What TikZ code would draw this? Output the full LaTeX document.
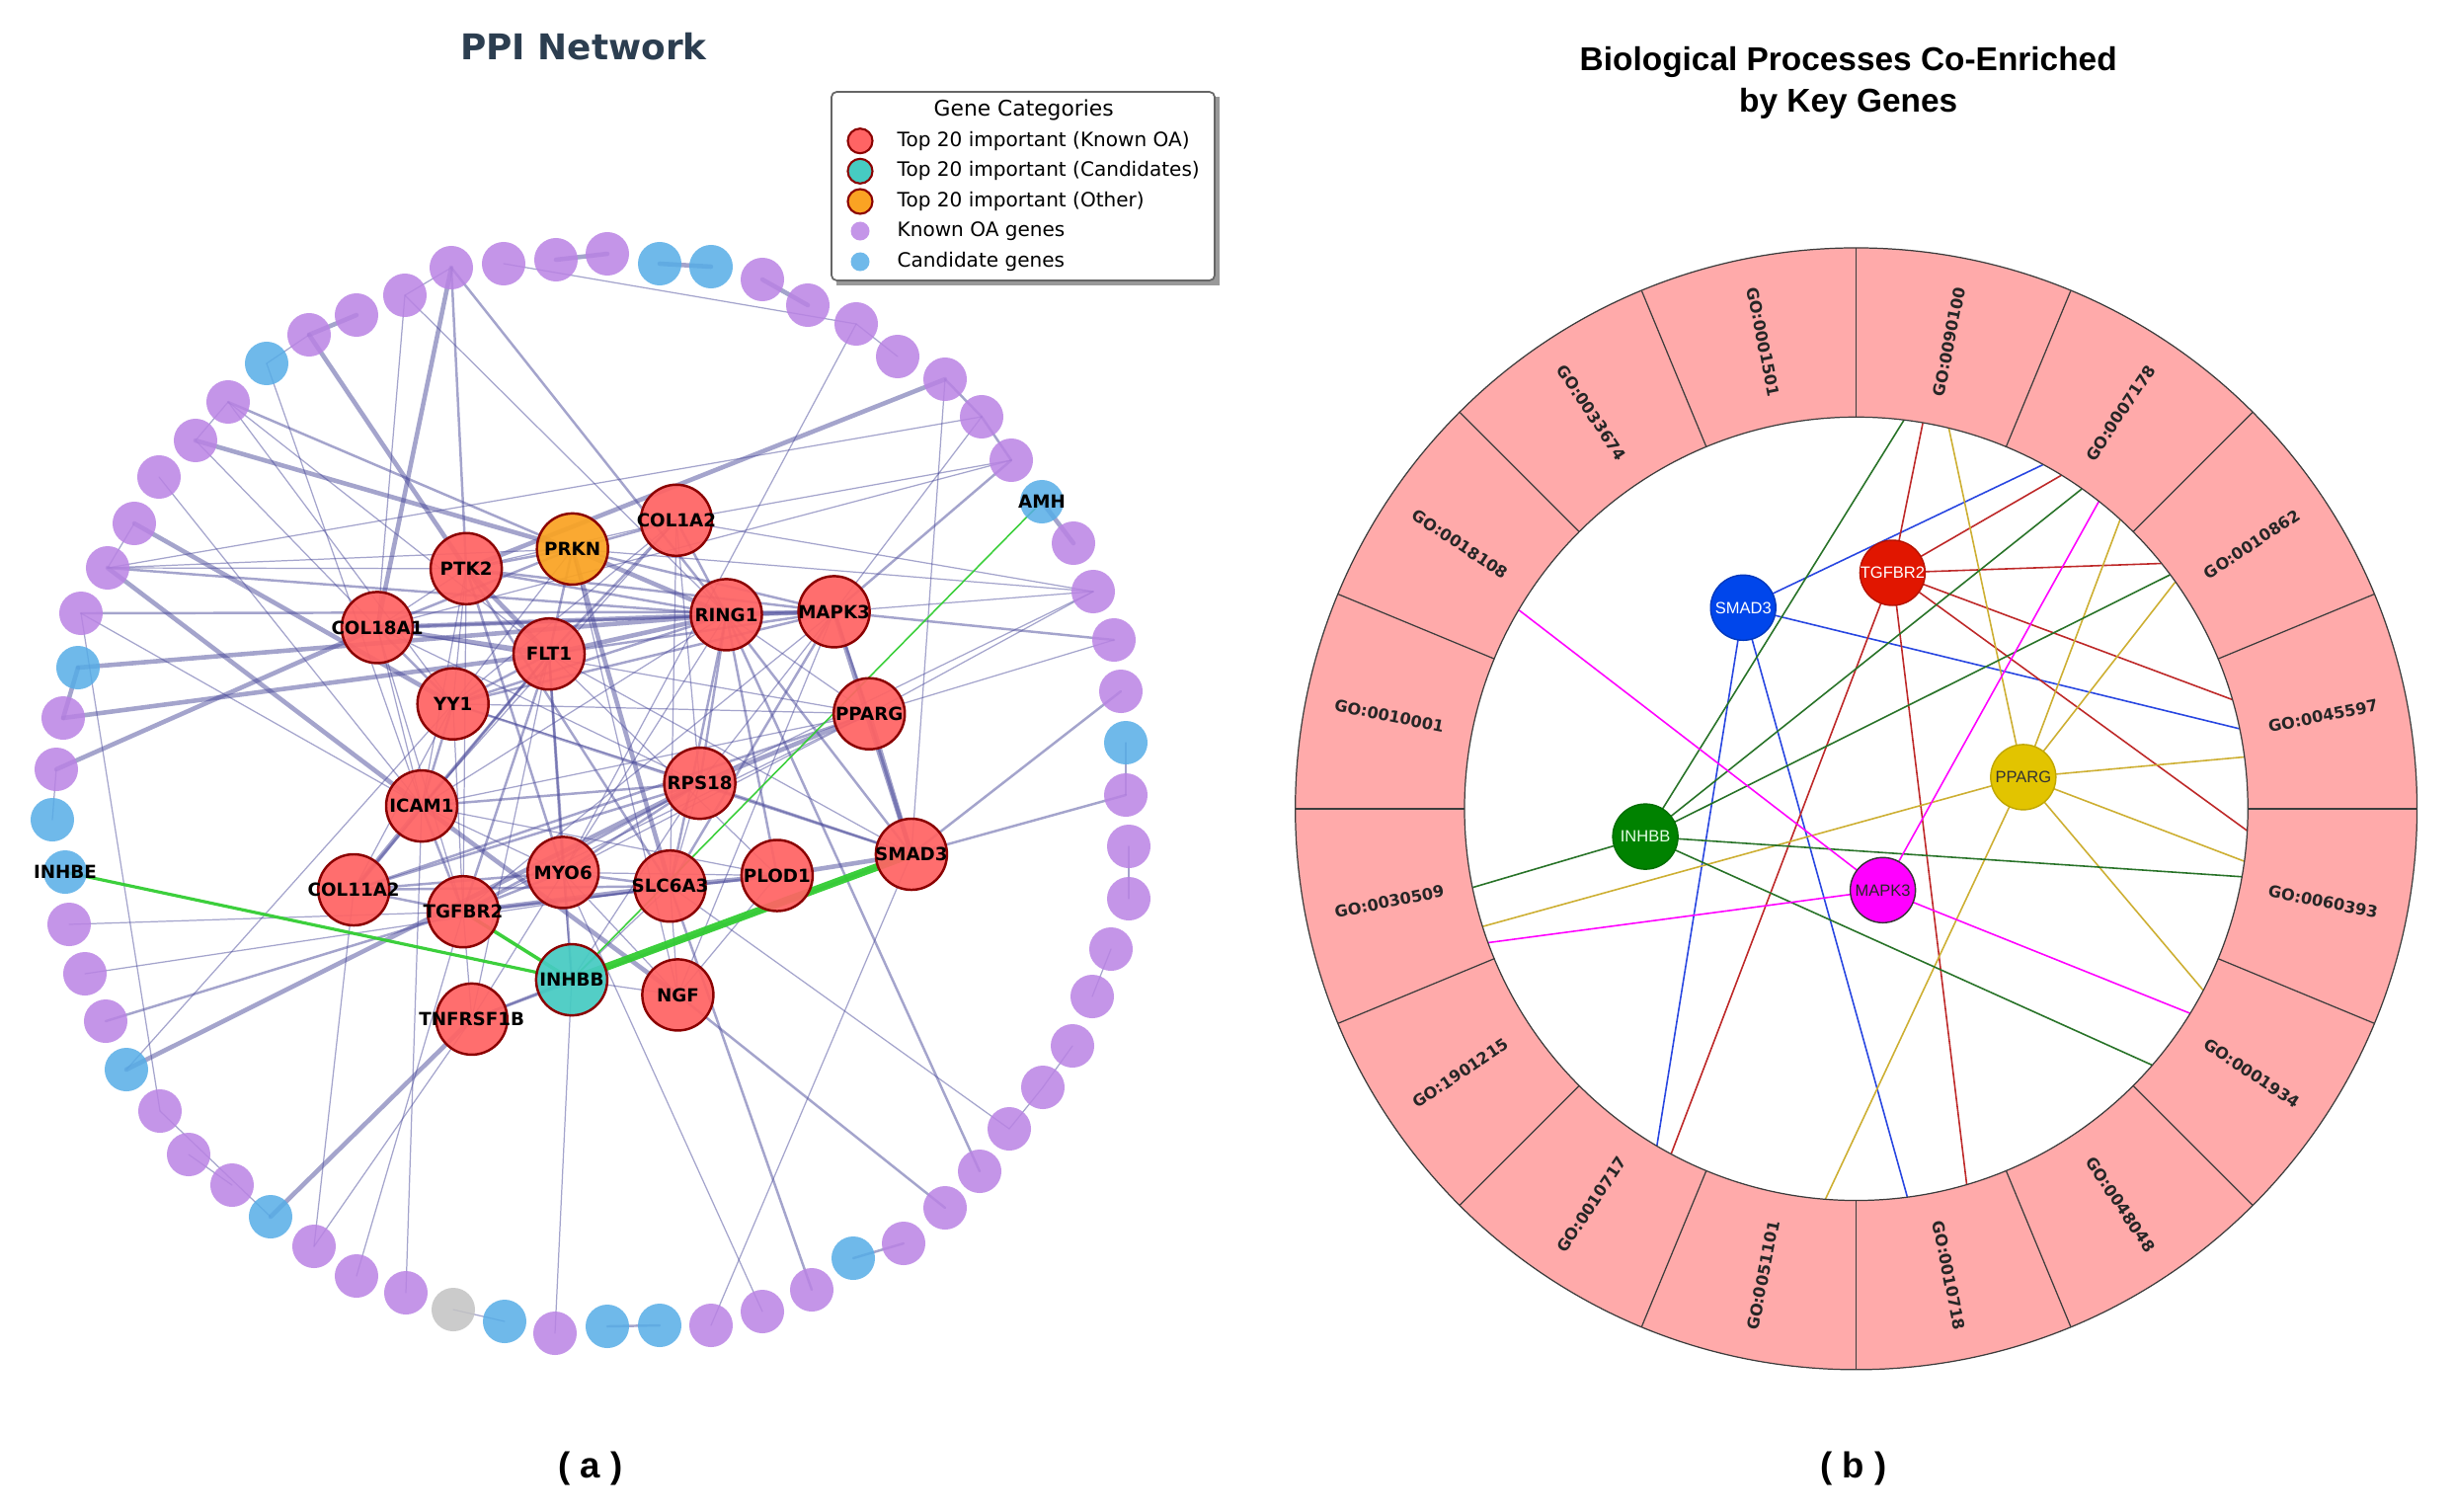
\documentclass[tikz,border=0pt]{standalone}
\usepackage{fontspec}
\setmainfont{DejaVu Sans}
\newfontfamily\libsans{Liberation Sans}
\pgfdeclarelayer{edgelayer}
\pgfsetlayers{edgelayer,main}
\newcommand\myfs[1]{\fontsize{#1}{#1}\selectfont}
\definecolor{cRed}{RGB}{255,100,100}
\definecolor{cTeal}{RGB}{70,203,194}
\definecolor{cOrg}{RGB}{250,163,35}
\definecolor{cDR}{RGB}{139,0,0}
\definecolor{cPu}{RGB}{186,131,228}
\definecolor{cBl}{RGB}{86,173,231}
\definecolor{cGr}{RGB}{195,195,195}
\definecolor{cE}{RGB}{75,75,155}
\definecolor{cLime}{RGB}{50,205,50}
\definecolor{cTitle}{RGB}{44,62,80}
\definecolor{cWedge}{RGB}{255,170,170}
\definecolor{cSec}{RGB}{60,60,60}
\definecolor{cSm}{RGB}{0,70,235}
\definecolor{cTg}{RGB}{225,22,0}
\definecolor{cPp}{RGB}{226,196,0}
\definecolor{cIn}{RGB}{0,130,0}
\definecolor{cMa}{RGB}{255,0,255}
\definecolor{cSmE}{RGB}{40,70,225}
\definecolor{cTgE}{RGB}{190,40,40}
\definecolor{cPpE}{RGB}{205,175,50}
\definecolor{cInE}{RGB}{40,115,40}
\definecolor{cMaE}{RGB}{255,0,255}
\begin{document}
\begin{tikzpicture}[x=0.01cm,y=-0.01cm,
  ringnode/.style={circle,minimum size=4.4mm,inner sep=0pt,draw=none,fill opacity=0.85},
  bignode/.style={circle,minimum size=7.2mm,inner sep=0pt,draw=cDR,line width=0.7pt,fill opacity=0.93,draw opacity=1},
  nlab/.style={font=\myfs{5.2}\bfseries,text=black,inner sep=0pt,fill opacity=1,text opacity=1},
  lk/.style={draw=cE,draw opacity=0.5,line cap=round},
  e1/.style={lk,line width=0.35pt},
  e2/.style={lk,line width=0.7pt},
  e3/.style={lk,line width=1.3pt},
  ge/.style={draw=cLime,draw opacity=0.95,line cap=round},
  legbig/.style={circle,minimum size=2.5mm,inner sep=0pt,draw=cDR,line width=0.6pt},
  legsmall/.style={circle,minimum size=1.9mm,inner sep=0pt,draw=none},
  legtxt/.style={anchor=west,font=\myfs{5.7},inner sep=0pt},
  sec/.style={draw=cSec,line width=0.35pt},
  golab/.style={font=\myfs{4.6}\bfseries,text=black!85,inner sep=0pt},
  gnode/.style={circle,minimum size=6.6mm,inner sep=0pt,line width=0.4pt},
  glab/.style={font=\libsans\myfs{4.7},inner sep=0pt},
  re/.style={line width=0.45pt}
]
\useasboundingbox (0,0) rectangle (2486,1530);
\begin{pgfonlayer}{edgelayer}
\fill[white] (0,0) rectangle (2486,1530);
\end{pgfonlayer}

% ---------------- titles ----------------
\node[font=\myfs{10.2}\bfseries,text=cTitle] (titleA) at (591,47.6) {PPI Network};
\node[font=\libsans\myfs{9.5}\bfseries] (titleB1) at (1871.7,63.4) {Biological Processes Co-Enriched};
\node[font=\libsans\myfs{9.5}\bfseries] (titleB2) at (1871.7,104.6) {by Key Genes};
\node[font=\libsans\myfs{10.4}\bfseries] (capA) at (598,1487) {( a )};
\node[font=\libsans\myfs{10.4}\bfseries] (capB) at (1877,1487) {( b )};

% ---------------- left: ring nodes ----------------
\foreach \n/\x/\y/\c in {1/457/271/cPu,2/510/267/cPu,3/563/263/cPu,4/615/257/cPu,5/668/267/cBl,6/720/270/cBl,
 7/772/283/cPu,8/818/309/cPu,9/867/328/cPu,10/909/361/cPu,11/957/384/cPu,12/994/422/cPu,13/1024/466/cPu,
 14/1055/508/cBl,15/1087/550/cPu,16/1107/599/cPu,17/1128/648/cPu,18/1135/700/cPu,19/1140/752/cBl,
 20/1140/805/cPu,21/1143/857/cPu,22/1143/910/cPu,23/1125/961/cPu,24/1106/1009/cPu,25/1086/1059/cPu,
 26/1056/1101/cPu,27/1022/1143/cPu,28/992/1186/cPu,29/957/1223/cPu,30/915/1259/cPu,31/864/1274/cBl,
 32/822/1306/cPu,33/772/1328/cPu,34/720/1342/cPu,35/668/1342/cBl,36/615/1343/cBl,37/562/1350/cPu,
 38/511/1338/cBl,39/459/1326/cGr,40/411/1309/cPu,41/361/1292/cPu,42/318/1262/cPu,43/274/1232/cBl,
 44/235/1200/cPu,45/191/1169/cPu,46/162/1125/cPu,47/128/1083/cBl,48/107/1034/cPu,49/86/986/cPu,
 50/70/936/cPu,51/66/883/cBl,52/53/830/cBl,53/57/779/cPu,54/64/727/cPu,55/79/676/cBl,56/82/621/cPu,
 57/109/575/cPu,58/136/530/cPu,59/161/483/cPu,60/198/446/cPu,61/231/407/cPu,62/270/368/cBl,
 63/313/339/cPu,64/361/319/cPu,65/410/299/cPu}
  \node[ringnode,fill=\c] (L-r\n) at (\x,\y) {};
\node[nlab] (labAMH) at (L-r14) {AMH};
\node[nlab] (labINHBE) at (L-r51) {INHBE};

% ---------------- left: top-20 nodes ----------------
\foreach \n/\x/\y/\c in {PRKN/579.7/555.9/cOrg,COL1A2/684.9/526.8/cRed,PTK2/472.1/575.8/cRed,
 COL18A1/382.0/635.4/cRed,RING1/735.5/622.4/cRed,MAPK3/844.6/619.4/cRed,FLT1/556.0/662.2/cRed,
 YY1/458.7/712.7/cRed,PPARG/880.2/722.7/cRed,RPS18/708.6/793.1/cRed,ICAM1/427.0/816.1/cRed,
 SMAD3/922.9/865.0/cRed,MYO6/570.2/883.4/cRed,SLC6A3/678.5/897.2/cRed,PLOD1/786.9/886.5/cRed,
 COL11A2/358.2/901.0/cRed,TGFBR2/469.0/923.2/cRed,INHBB/578.9/992.1/cTeal,NGF/686.4/1007.4/cRed,
 TNFRSF1B/477.7/1031.9/cRed}
  \node[bignode,fill=\c,label={[nlab]center:\n}] (L-\n) at (\x,\y) {};

% ---------------- left: edges ----------------
\begin{pgfonlayer}{edgelayer}
\foreach \a/\b in {r1/r65,r2/r9,r9/r10,r19/r20,r21/r22,r23/r24,r25/r26,r26/r27,r38/r39,r44/r45,r46/r43,r52/r53,r57/r58,r60/r61,r62/r63,
 r65/COL18A1,r65/RING1,r62/ICAM1,r61/FLT1,r61/YY1,r60/COL18A1,r59/ICAM1,r57/PTK2,r57/PRKN,r57/r12,r56/ICAM1,r56/r46,
 r47/YY1,r49/SLC6A3,r50/TGFBR2,r42/COL11A2,r42/TNFRSF1B,r41/TGFBR2,r40/ICAM1,r37/INHBB,r33/MYO6,r34/SMAD3,
 r27/SLC6A3,r11/SMAD3,r12/MAPK3,r13/COL18A1,r16/COL1A2,r16/MAPK3,r16/RPS18,r16/PRKN,r16/PPARG,r17/PPARG,r9/MYO6,
 COL1A2/PTK2,COL1A2/YY1,COL1A2/ICAM1,COL1A2/RPS18,COL1A2/SLC6A3,COL1A2/r13,PRKN/NGF,PRKN/YY1,
 PTK2/COL18A1,PTK2/YY1,PTK2/ICAM1,PTK2/TGFBR2,COL18A1/ICAM1,COL18A1/TGFBR2,COL18A1/PPARG,COL18A1/RPS18,
 RING1/PPARG,RING1/MYO6,RING1/ICAM1,MAPK3/RPS18,MAPK3/NGF,FLT1/TNFRSF1B,FLT1/SMAD3,FLT1/PLOD1,
 YY1/RPS18,YY1/PPARG,YY1/TGFBR2,YY1/COL11A2,PPARG/ICAM1,PPARG/MYO6,PPARG/TGFBR2,RPS18/INHBB,RPS18/SLC6A3,
 ICAM1/MYO6,ICAM1/PLOD1,TGFBR2/TNFRSF1B,TGFBR2/MAPK3,MYO6/PLOD1,MYO6/INHBB,MYO6/NGF,MYO6/TNFRSF1B,
 SLC6A3/NGF,SLC6A3/INHBB,PLOD1/NGF,INHBB/NGF}
  \draw[e1] (L-\a.center) -- (L-\b.center);
\foreach \a/\b in {r11/r12,r12/r13,r30/r31,r35/r36,r1/PTK2,r1/RING1,r61/PRKN,r57/RING1,r56/MAPK3,r48/TGFBR2,
 r28/RING1,r32/SLC6A3,r29/NGF,r13/MAPK3,r17/MAPK3,r18/SMAD3,r20/SMAD3,
 COL1A2/PRKN,COL1A2/RING1,COL1A2/FLT1,PRKN/PTK2,PRKN/FLT1,PRKN/MAPK3,PRKN/COL18A1,
 PTK2/RING1,PTK2/MAPK3,PTK2/MYO6,PTK2/SLC6A3,COL18A1/MAPK3,COL18A1/YY1,
 RING1/YY1,RING1/RPS18,RING1/SLC6A3,RING1/PLOD1,RING1/SMAD3,
 MAPK3/FLT1,MAPK3/PPARG,MAPK3/SLC6A3,MAPK3/YY1,
 FLT1/YY1,FLT1/ICAM1,FLT1/MYO6,FLT1/TGFBR2,FLT1/INHBB,FLT1/COL11A2,YY1/ICAM1,YY1/SMAD3,PPARG/COL11A2,
 RPS18/ICAM1,RPS18/COL11A2,RPS18/TGFBR2,RPS18/MYO6,RPS18/SMAD3,ICAM1/TGFBR2,
 COL11A2/TGFBR2,COL11A2/MYO6,COL11A2/SLC6A3,TGFBR2/PLOD1,TGFBR2/MYO6,MYO6/SLC6A3,SMAD3/TNFRSF1B,INHBB/TNFRSF1B}
  \draw[e2] (L-\a.center) -- (L-\b.center);
\foreach \a/\b in {r3/r4,r5/r6,r7/r8,r14/r15,r54/r55,r63/r64,r1/COL18A1,r63/PTK2,r60/PRKN,r58/YY1,r57/ICAM1,
 r55/RING1,r54/FLT1,r53/COL18A1,r47/RPS18,r43/TNFRSF1B,r11/PTK2,PRKN/RING1,PRKN/SLC6A3,PTK2/FLT1,
 COL18A1/FLT1,COL18A1/RING1,RING1/FLT1,RING1/MAPK3,MAPK3/SMAD3,PPARG/SMAD3,PPARG/RPS18,
 ICAM1/COL11A2,ICAM1/NGF,TGFBR2/SLC6A3,SLC6A3/PLOD1,PLOD1/SMAD3}
  \draw[e3] (L-\a.center) -- (L-\b.center);
\draw[ge,line width=2.2pt] (L-INHBB.center) -- (L-SMAD3.center);
\draw[ge,line width=0.9pt] (L-INHBB.center) -- (L-r51.center);
\draw[ge,line width=1.0pt] (L-INHBB.center) -- (L-TGFBR2.center);
\draw[ge,line width=0.45pt] (L-INHBB.center) -- (L-r14.center);
\end{pgfonlayer}

% ---------------- legend ----------------
\fill[black!40] (847,98) rectangle (1235,289);
\draw[draw=black!60,fill=white,line width=0.5pt,rounded corners=1.5pt] (842,93) rectangle (1230,284);
\node[font=\myfs{6.2}] (legT) at (1036.7,111.7) {Gene Categories};
\node[legbig,fill=cRed] (lm1) at (871,142.7) {};
\node[legtxt] (lt1) at (908,142.7) {Top 20 important (Known OA)};
\node[legbig,fill=cTeal] (lm2) at (871,173.3) {};
\node[legtxt] (lt2) at (908,173.3) {Top 20 important (Candidates)};
\node[legbig,fill=cOrg] (lm3) at (871,204) {};
\node[legtxt] (lt3) at (908,204) {Top 20 important (Other)};
\node[legsmall,fill=cPu,fill opacity=0.85] (lm4) at (871,234) {};
\node[legtxt] (lt4) at (908,234) {Known OA genes};
\node[legsmall,fill=cBl,fill opacity=0.85] (lm5) at (871,265) {};
\node[legtxt] (lt5) at (908,265) {Candidate genes};

% ---------------- right panel ----------------
\begin{scope}[shift={(1879.6,818.9)}]
  \fill[cWedge,even odd rule] (0,0) circle[radius=5.676cm] (0,0) circle[radius=3.964cm];
  \draw[sec] (0,0) circle[radius=5.676cm];
  \draw[sec] (0,0) circle[radius=3.964cm];
  \foreach \a in {0,22.5,...,337.5}
    \draw[sec] ({-\a}:396.4) -- ({-\a}:567.6);
  \foreach \lab [count=\k from 0] in {GO:0045597,GO:0010862,GO:0007178,GO:0090100,GO:0001501,GO:0033674,
     GO:0018108,GO:0010001,GO:0030509,GO:1901215,GO:0010717,GO:0051101,GO:0010718,GO:0048048,GO:0001934,GO:0060393} {
    \pgfmathsetmacro\ang{11.25+22.5*\k}
    \pgfmathsetmacro\rot{\ang-180*((\ang>90)*(\ang<270))}
    \node[golab,rotate=\rot] (go\k) at ({-\ang}:482) {\lab};
  }
  \node[gnode,fill=cSm,draw=cSm!80!black,label={[glab,text=white]center:SMAD3}] (bSMAD3) at (-114.4,-203.6) {};
  \node[gnode,fill=cTg,draw=cTg!80!black,label={[glab,text=white]center:TGFBR2}] (bTGFBR2) at (36.8,-238.9) {};
  \node[gnode,fill=cPp,draw=cPp!85!black,label={[glab,text=black!80]center:PPARG}] (bPPARG) at (169.2,-32) {};
  \node[gnode,fill=cIn,draw=cIn!85!black,label={[glab,text=green!10]center:INHBB}] (bINHBB) at (-213.5,28.2) {};
  \node[gnode,fill=cMa,draw=black!80,label={[glab,text=black!85]center:MAPK3}] (bMAPK3) at (27,82.4) {};
  \begin{pgfonlayer}{edgelayer}
  \foreach \a [count=\i] in {61.5,11.8,-120.6,-82.5} {
    \coordinate (sm\i) at ({-(\a)}:396.4);
    \draw[re,draw=cSmE] (bSMAD3.center) -- (sm\i);}
  \foreach \a [count=\i] in {80.2,58.4,38.8,16.2,-3.2,-118.2,-73.6} {
    \coordinate (tg\i) at ({-(\a)}:396.4);
    \draw[re,draw=cTgE] (bTGFBR2.center) -- (tg\i);}
  \foreach \a [count=\i] in {76.3,47.6,35.4,7.6,-7.7,-27.6,-94.5,197.5} {
    \coordinate (pp\i) at ({-(\a)}:396.4);
    \draw[re,draw=cPpE] (bPPARG.center) -- (pp\i);}
  \foreach \a [count=\i] in {83.0,54.8,36.7,-10.0,-40.9,191.6} {
    \coordinate (in\i) at ({-(\a)}:396.4);
    \draw[re,draw=cInE] (bINHBB.center) -- (in\i);}
  \foreach \a [count=\i] in {51.7,149.5,200.0,-31.5} {
    \coordinate (ma\i) at ({-(\a)}:396.4);
    \draw[re,draw=cMaE] (bMAPK3.center) -- (ma\i);}
  \end{pgfonlayer}
\end{scope}
\end{tikzpicture}
\end{document}
